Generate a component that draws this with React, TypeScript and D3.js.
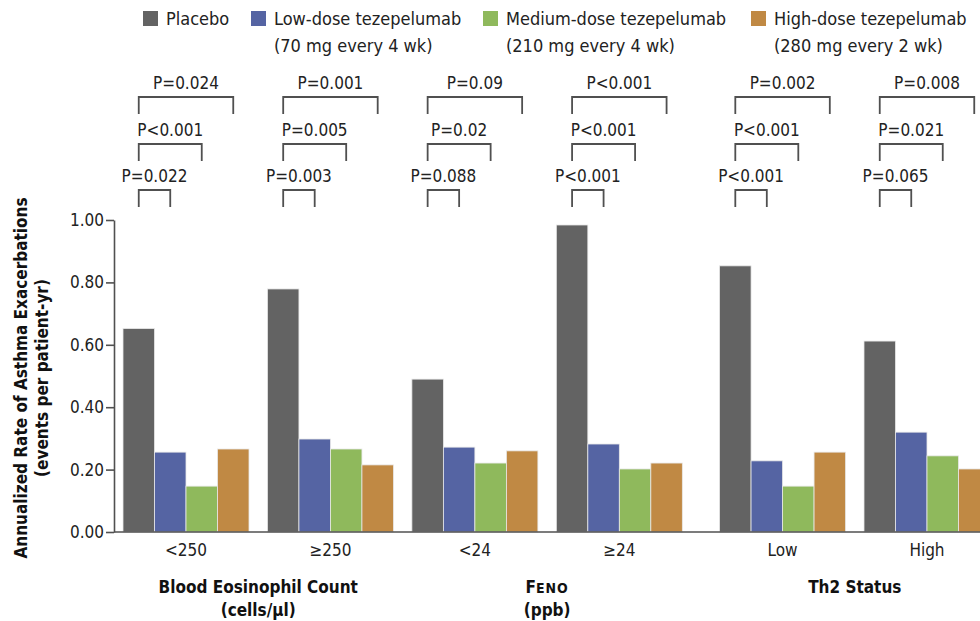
import { useEffect, useRef } from 'react';
import * as d3 from 'd3';

// subgroup labels along the x axis
const groups = ['<250', '≥250', '<24', '≥24', 'Low', 'High'];

const series = ['Placebo', 'Low-dose tezepelumab', 'Medium-dose tezepelumab', 'High-dose tezepelumab'];
const seriesSub = ['', '(70 mg every 4 wk)', '(210 mg every 4 wk)', '(280 mg every 2 wk)'];
const colors = ['#636363', '#5564a3', '#8fb95c', '#c08944'];

// annualized exacerbation rates (events per patient-yr)
const placebo = [0.652, 0.779, 0.49, 0.984, 0.853, 0.612];
const lowDose = [0.256, 0.298, 0.272, 0.282, 0.228, 0.32];
const mediumDose = [0.147, 0.266, 0.221, 0.202, 0.147, 0.244];
const highDose = [0.266, 0.215, 0.26, 0.221, 0.256, 0.202];

// P values vs placebo
const pLow = ['P=0.022', 'P=0.003', 'P=0.088', 'P<0.001', 'P<0.001', 'P=0.065'];
const pMedium = ['P<0.001', 'P=0.005', 'P=0.02', 'P<0.001', 'P<0.001', 'P=0.021'];
const pHigh = ['P=0.024', 'P=0.001', 'P=0.09', 'P<0.001', 'P=0.002', 'P=0.008'];

const yTicks = [0, 0.2, 0.4, 0.6, 0.8, 1.0];

const categoryNames = ['Blood Eosinophil Count', 'FENO', 'Th2 Status'];
const categoryUnits = ['(cells/µl)', '(ppb)', ''];
const categoryGroups = [[0, 1], [2, 3], [4, 5]];

const FONT = "'Liberation Sans Narrow', 'DejaVu Sans Condensed', 'Arial Narrow', sans-serif";

const App = () => {
  const svgRef = useRef<SVGSVGElement | null>(null);

  useEffect(() => {
    const W = 980;
    const H = 621;
    const svg = d3.select(svgRef.current);
    svg.selectAll('*').remove();
    svg.attr('width', W).attr('height', H).style('font-family', FONT);

    const values = [placebo, lowDose, mediumDose, highDose];

    // small extra gap before the Th2 groups
    const slot = (i: number) => i + (i >= 4 ? 0.13 : 0);
    const x0 = d3.scaleLinear().domain([0, slot(5)]).range([123, 864]);
    const x1 = d3.scaleBand().domain(series).range([0, 126]).padding(0);
    const y = d3.scaleLinear().domain([0, 1]).range([532, 220]);

    const barCenter = (g: number, s: number) => x0(slot(g)) + x1(series[s])! + x1.bandwidth() / 2;
    const groupCenter = (g: number) => x0(slot(g)) + x1.range()[1] / 2;

    // bars
    series.forEach((s, si) => {
      svg.append('g')
        .selectAll('rect')
        .data(values[si])
        .enter()
        .append('rect')
        .attr('x', (_, gi) => x0(slot(gi)) + x1(s)!)
        .attr('y', d => y(d))
        .attr('width', x1.bandwidth())
        .attr('height', d => y(0) - y(d))
        .attr('fill', colors[si])
        .attr('stroke', '#e8e8e8')
        .attr('stroke-width', 0.8);
    });

    // y axis
    const yAxis = svg.append('g')
      .attr('transform', 'translate(114,0)')
      .call(d3.axisLeft(y).tickValues(yTicks).tickFormat(d3.format('.2f')).tickSize(8).tickSizeOuter(0));
    yAxis.select('.domain').attr('stroke', '#505050').attr('stroke-width', 1.6);
    yAxis.selectAll('.tick line').attr('stroke', '#505050').attr('stroke-width', 1.6);
    yAxis.selectAll('.tick text')
      .attr('x', -10)
      .attr('fill', '#222')
      .style('font-family', FONT)
      .style('font-size', '17px');

    // x baseline
    svg.append('line')
      .attr('x1', 114).attr('x2', W)
      .attr('y1', y(0)).attr('y2', y(0))
      .attr('stroke', '#505050')
      .attr('stroke-width', 1.6);

    // x tick labels
    svg.selectAll('.xlab')
      .data(groups)
      .enter()
      .append('text')
      .attr('x', (_, i) => groupCenter(i))
      .attr('y', 556)
      .attr('text-anchor', 'middle')
      .attr('fill', '#222')
      .style('font-size', '17px')
      .text(d => d);

    // category titles
    categoryNames.forEach((name, ci) => {
      const [a, b] = categoryGroups[ci];
      const cx = (groupCenter(a) + groupCenter(b)) / 2;
      const t = svg.append('text')
        .attr('x', cx)
        .attr('y', 593)
        .attr('text-anchor', 'middle')
        .attr('fill', '#111')
        .style('font-size', '17px')
        .style('font-weight', 'bold');
      if (name === 'FENO') {
        t.append('tspan').text('F');
        t.append('tspan').style('font-size', '14px').style('letter-spacing', '1px').text('ENO');
      } else {
        t.text(name);
      }
      if (categoryUnits[ci]) {
        svg.append('text')
          .attr('x', cx)
          .attr('y', 616)
          .attr('text-anchor', 'middle')
          .attr('fill', '#111')
          .style('font-size', '17px')
          .style('font-weight', 'bold')
          .text(categoryUnits[ci]);
      }
    });

    // y axis title
    const yTitle = svg.append('text')
      .attr('transform', 'translate(27,378) rotate(-90)')
      .attr('text-anchor', 'middle')
      .attr('fill', '#111')
      .style('font-size', '17px')
      .style('font-weight', 'bold');
    yTitle.append('tspan').attr('x', 0).attr('dy', 0).text('Annualized Rate of Asthma Exacerbations');
    yTitle.append('tspan').attr('x', 0).attr('dy', 21).text('(events per patient-yr)');

    // significance brackets: placebo vs each dose
    const pRows = [pLow, pMedium, pHigh];
    const bracketTop = [190, 144, 97];
    pRows.forEach((row, ri) => {
      row.forEach((label, gi) => {
        const xa = barCenter(gi, 0);
        const xb = barCenter(gi, ri + 1);
        const top = bracketTop[ri];
        svg.append('path')
          .attr('d', `M${xa},${top + 17}V${top}H${xb}V${top + 17}`)
          .attr('fill', 'none')
          .attr('stroke', '#505050')
          .attr('stroke-width', 1.8);
        svg.append('text')
          .attr('x', (xa + xb) / 2)
          .attr('y', top - 8)
          .attr('text-anchor', 'middle')
          .attr('fill', '#222')
          .style('font-size', '17px')
          .text(label);
      });
    });

    // legend
    const legendX = [143, 251, 483, 751];
    series.forEach((s, si) => {
      const lg = svg.append('g').attr('transform', `translate(${legendX[si]},0)`);
      lg.append('rect')
        .attr('x', 0).attr('y', 11)
        .attr('width', 15).attr('height', 15)
        .attr('fill', colors[si]);
      lg.append('text')
        .attr('x', 23).attr('y', 25)
        .attr('fill', '#222')
        .style('font-size', '18px')
        .text(s);
      if (seriesSub[si]) {
        lg.append('text')
          .attr('x', 23).attr('y', 52)
          .attr('fill', '#222')
          .style('font-size', '18px')
          .text(seriesSub[si]);
      }
    });
  }, []);

  return (
    <div style={{ position: 'absolute', left: 0, top: 0, background: '#fff' }}>
      <svg ref={svgRef}></svg>
    </div>
  );
};

export default App;
